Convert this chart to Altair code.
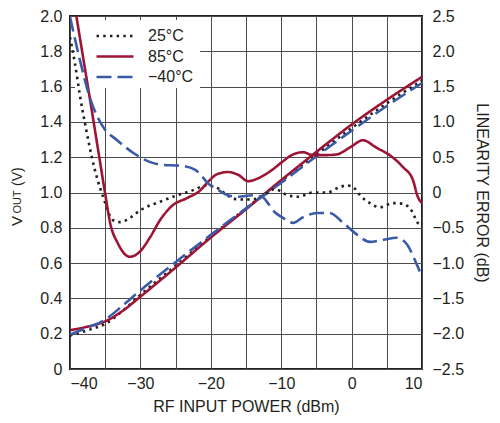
import altair as alt
import pandas as pd

temps = ["25°C", "85°C", "−40°C"]
colors = ["#231f20", "#9d1535", "#3a5ba8"]
dashes = [[2.5, 4.2], [1, 0], [15, 6]]

# VOUT (left axis)
vout_x = [-40, -37.5, -35, -32.5, -30, -25, -20, -15, -10, -5, 0, 5, 10]
vout_25 = [0.19, 0.22, 0.255, 0.33, 0.42, 0.585, 0.75, 0.91, 1.065, 1.215, 1.365, 1.505, 1.635]
vout_85 = [0.22, 0.24, 0.27, 0.33, 0.41, 0.575, 0.745, 0.905, 1.07, 1.23, 1.385, 1.525, 1.655]
vout_m40 = [0.195, 0.235, 0.28, 0.36, 0.445, 0.605, 0.76, 0.91, 1.055, 1.205, 1.35, 1.49, 1.62]

# Linearity error (right axis)
err25_x = [-40, -39.3, -38.6, -37.6, -36.9, -36.2, -35.3, -33.9, -32.9, -31.5, -30.0, -27.2,
           -24.8, -22.6, -20.6, -19.0, -17.5, -16.6, -15.5, -14.3, -13.3, -11.9, -10.9, -10.1,
           -9.1, -7.5, -5.5, -3.5, -1.6, -0.6, 0.3, 1.2, 2.6, 4.0, 5.9, 7.3, 8.6, 9.4, 10]
err25_y = [2.2, 1.83, 1.38, 0.84, 0.5, 0.22, -0.06, -0.39, -0.42, -0.36, -0.25, -0.13,
           -0.04, 0.03, 0.1, 0.06, -0.05, -0.09, -0.1, -0.1, -0.08, 0.0, 0.05, 0.02,
           -0.04, -0.06, 0.0, 0.0, 0.08, 0.1, 0.07, -0.04, -0.15, -0.21, -0.15, -0.16, -0.27, -0.43, -0.46]

err85_x = [-40, -39, -38, -37, -36, -35, -34.3, -33.2, -31.5, -30.1, -28.6, -27.2, -25.4,
           -23.4, -21.5, -20.4, -19.1, -17.6, -16.1, -14.7, -13.3, -11.3, -9.9, -8.5, -6.9,
           -5.5, -3.5, -2.1, -0.2, 1.6, 3.6, 5.4, 7.3, 8.7, 9.4, 10]
err85_y = [3.05, 2.44, 1.83, 1.22, 0.6, -0.02, -0.43, -0.72, -0.91, -0.84, -0.63, -0.39, -0.18,
           -0.08, 0.03, 0.15, 0.26, 0.29, 0.25, 0.16, 0.2, 0.32, 0.43, 0.53, 0.57,
           0.53, 0.53, 0.54, 0.64, 0.74, 0.63, 0.53, 0.36, 0.18, -0.06, -0.15]

errm40_x = [-40, -38.6, -37.2, -35.3, -33.3, -31.0, -28.6, -26.8, -24.4, -22.2, -21.2, -20.4,
            -19.0, -17.6, -16.1, -14.1, -12.7, -11.9, -10.9, -9.9, -8.3, -6.9, -4.9, -3.1,
            -1.2, 0.8, 2.6, 4.5, 6.4, 7.9, 9.0, 10]
errm40_y = [2.49, 1.88, 1.35, 0.93, 0.74, 0.56, 0.43, 0.39, 0.38, 0.32, 0.22, 0.13,
            0.04, -0.04, -0.06, -0.04, -0.06, -0.15, -0.28, -0.35, -0.43, -0.35, -0.29, -0.29,
            -0.43, -0.6, -0.7, -0.67, -0.64, -0.74, -0.96, -1.2]

x_ticks = list(range(-40, 11, 5))
left_ticks = [round(i * 0.2, 1) for i in range(11)]
right_ticks = [round(-2.5 + i * 0.5, 1) for i in range(11)]

FONT = "Liberation Sans"
FS = 16
INK = "#231f20"

rows = []
for t, ys in zip(temps, [vout_25, vout_85, vout_m40]):
    for x, y in zip(vout_x, ys):
        rows.append({"x": x, "v": y, "temp": t})
df_v = pd.DataFrame(rows)

rows = []
for t, xs, ys in zip(temps, [err25_x, err85_x, errm40_x], [err25_y, err85_y, errm40_y]):
    for x, y in zip(xs, ys):
        rows.append({"x": x, "e": y, "temp": t})
df_e = pd.DataFrame(rows)

color = alt.Color("temp:N", scale=alt.Scale(domain=temps, range=colors), title=None,
                  legend=alt.Legend(orient="none", legendX=37, legendY=12,
                                    symbolType="M-3,0H3", symbolSize=152,
                                    symbolStrokeWidth=2.6, labelFontSize=FS,
                                    labelFont=FONT, labelColor=INK, labelOffset=25,
                                    rowPadding=4.5, padding=0))
dash = alt.StrokeDash("temp:N", scale=alt.Scale(domain=temps, range=dashes), title=None)

xenc = alt.X("x:Q", scale=alt.Scale(domain=[-40, 10], nice=False, zero=False),
             axis=alt.Axis(values=x_ticks, title="RF INPUT POWER (dBm)",
                           labelExpr="replace(format(datum.value, 'd'), '-', '−')",
                           grid=True, labelPadding=6, titlePadding=7))

bg = alt.Chart(pd.DataFrame({"a": [0]})).mark_rect(fill="white").encode(
    x=alt.value(5), x2=alt.value(130), y=alt.value(4), y2=alt.value(72))

vout = alt.Chart(df_v).mark_line(strokeWidth=2.6, interpolate="monotone", clip=True).encode(
    x=xenc,
    y=alt.Y("v:Q", scale=alt.Scale(domain=[0, 2], nice=False, zero=False),
            axis=alt.Axis(values=left_ticks, orient="left", title=None, grid=True,
                          labelExpr="datum.value == 0 ? '0' : format(datum.value, '.1f')",
                          labelPadding=8)),
    color=color, strokeDash=dash)

err = alt.Chart(df_e).mark_line(strokeWidth=2.6, interpolate="monotone", clip=True).encode(
    x=xenc,
    y=alt.Y("e:Q", scale=alt.Scale(domain=[-2.5, 2.5], nice=False, zero=False),
            axis=alt.Axis(values=right_ticks, orient="right", title="LINEARITY ERROR (dB)",
                          grid=False, titleAngle=90, titlePadding=10,
                          labelExpr="datum.value == 0 ? '0' : replace(format(datum.value, '.1f'), '-', '−')",
                          labelPadding=10)),
    color=color, strokeDash=dash)

title_v = alt.Chart(pd.DataFrame({"t": ["V"]})).mark_text(
    angle=270, align="left", baseline="alphabetic", font=FONT, fontSize=15, color=INK
).encode(x=alt.value(-48), y=alt.value(210), text="t:N")
title_out = alt.Chart(pd.DataFrame({"t": ["OUT"]})).mark_text(
    angle=270, align="left", baseline="alphabetic", font=FONT, fontSize=11, color=INK
).encode(x=alt.value(-49.5), y=alt.value(197.5), text="t:N")
title_unit = alt.Chart(pd.DataFrame({"t": ["(V)"]})).mark_text(
    angle=270, align="left", baseline="alphabetic", font=FONT, fontSize=14, color=INK
).encode(x=alt.value(-48.5), y=alt.value(170), text="t:N")

chart = alt.layer(bg, vout, err, title_v, title_out, title_unit).resolve_scale(
    y="independent"
).properties(
    width=352, height=353,
    autosize=alt.AutoSizeParams(type="none"),
    padding={"left": 62, "top": 8, "right": 70, "bottom": 46},
).configure_view(
    stroke=INK, strokeWidth=2
).configure_axis(
    labelFont=FONT, labelFontSize=FS, labelColor=INK,
    titleFont=FONT, titleFontSize=FS, titleColor=INK, titleFontWeight="normal",
    gridColor="#4d4d4d", gridWidth=1, gridOpacity=1,
    tickSize=0, domain=False,
)

chart.save("out.html", embed_options={"renderer": "svg", "actions": False})
